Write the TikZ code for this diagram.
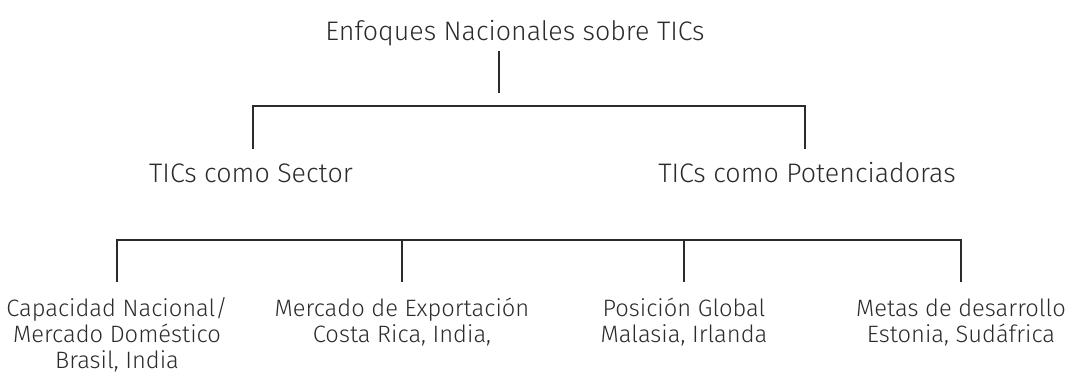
\documentclass[tikz,border=0pt]{standalone}
\usepackage{fontspec}
\setmainfont{Fira Sans}[UprightFont=* Light]
\definecolor{ink}{HTML}{2B2B2B}
\tikzset{
  lvl/.style={inner sep=0pt, anchor=base, text=ink, font=\fontsize{26.8}{33}\selectfont},
  leaf/.style={inner sep=0pt, anchor=base, text=ink, font=\fontsize{23.7}{26}\selectfont},
  conn/.style={draw=ink, line width=1.5pt},
}
\newcommand{\stackedtext}[1]{\begin{tabular}[t]{@{}c@{}}#1\end{tabular}}
\begin{document}
\begin{tikzpicture}[x=1pt,y=-1pt]
\useasboundingbox (0,0) rectangle (1068,383);
% texts
\node[lvl] (root) at (515,40) {Enfoques Nacionales sobre TICs};
\node[lvl] (sector) at (251,182) {TICs como Sector};
\node[lvl] (poten) at (807,182) {TICs como Potenciadoras};
\node[leaf] (cap) at (117,316) {\stackedtext{Capacidad Nacional/\\Mercado Doméstico\\Brasil, India}};
\node[leaf] (exp) at (402,316) {\stackedtext{Mercado de Exportación\\Costa Rica, India,}};
\node[leaf] (pos) at (684,316) {\stackedtext{Posición Global\\Malasia, Irlanda}};
\node[leaf] (met) at (961,316) {\stackedtext{Metas de desarrollo\\Estonia, Sudáfrica}};
% connector points
\coordinate (rootA) at (499,51);
\coordinate (rootB) at (499,93);
\coordinate (secTop) at (253,149);
\coordinate (potTop) at (805,149);
\coordinate (potBar) at (805,106);
\coordinate (capTop) at (117,282);
\coordinate (expTop) at (402,282);
\coordinate (posTop) at (684,282);
\coordinate (metTop) at (961,282);
\coordinate (metBar) at (961,240);
\coordinate (expBar) at (402,240);
\coordinate (posBar) at (684,240);
% connectors
\draw[conn] (rootA) -- (rootB);
\draw[conn] (secTop) |- (potBar) -- (potTop);
\draw[conn] (capTop) |- (metBar) -- (metTop);
\draw[conn] (expBar) -- (expTop);
\draw[conn] (posBar) -- (posTop);
\end{tikzpicture}
\end{document}
